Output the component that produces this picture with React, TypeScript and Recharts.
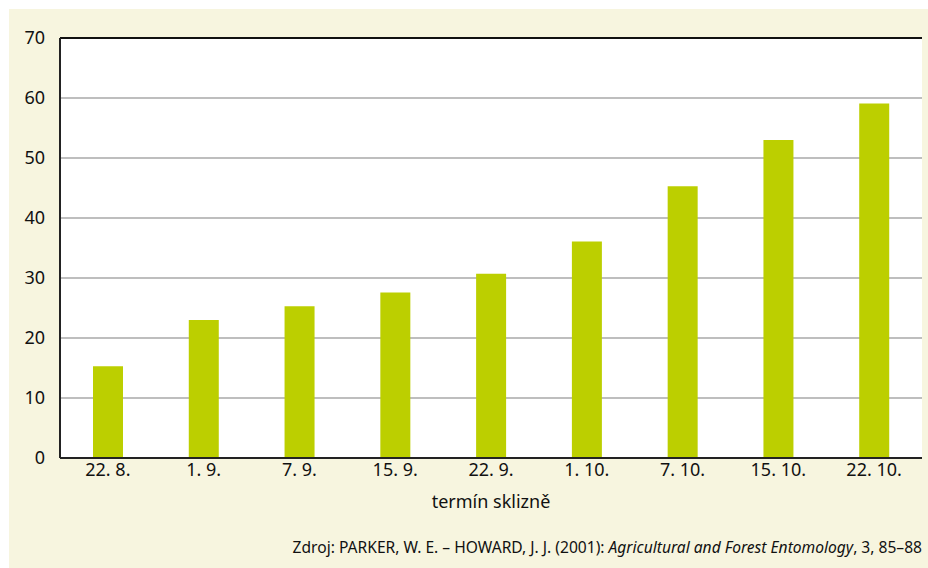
import React from "react";
import { BarChart, Bar, XAxis, YAxis, CartesianGrid, ReferenceLine } from "recharts";

const categories = ["22. 8.", "1. 9.", "7. 9.", "15. 9.", "22. 9.", "1. 10.", "7. 10.", "15. 10.", "22. 10."];
const values = [15.3, 23.0, 25.3, 27.6, 30.7, 36.1, 45.3, 53.0, 59.1];
const yTicks = [0, 10, 20, 30, 40, 50, 60, 70];
const xLabel = "termín sklizně";

const data = categories.map((c, i) => ({ name: c, value: values[i] }));

const FONT = "'Noto Sans', sans-serif";

export default function App() {
  return (
    <div
      style={{
        position: "fixed",
        left: 9,
        top: 9,
        width: 919,
        height: 559,
        background: "#f7f5df",
        fontFamily: FONT,
      }}
    >
      <BarChart
        width={919}
        height={559}
        data={data}
        margin={{ top: 29, right: 6, left: 0, bottom: 50 }}
      >
        <CartesianGrid
          vertical={false}
          stroke="#a8a8a8"
          strokeWidth={1.5}
          fill="#ffffff"
          fillOpacity={1}
        />
        <XAxis
          dataKey="name"
          tickLine={false}
          tickSize={0}
          tickMargin={5}
          axisLine={{ stroke: "#222", strokeWidth: 2 }}
          tick={{ fill: "#111", fontSize: 18, fontFamily: FONT }}
          height={60}
          label={{ value: xLabel, position: "insideBottom", offset: 10, fill: "#111", fontSize: 18, fontFamily: FONT }}
        />
        <YAxis
          domain={[0, 70]}
          ticks={yTicks}
          tickLine={false}
          tickSize={0}
          tickMargin={15}
          width={51}
          axisLine={{ stroke: "#222", strokeWidth: 2 }}
          tick={{ fill: "#111", fontSize: 18, fontFamily: FONT }}
          interval={0}
        />
        <YAxis
          yAxisId="right"
          orientation="right"
          domain={[0, 70]}
          tick={false}
          tickLine={false}
          width={0}
          axisLine={{ stroke: "#444", strokeWidth: 2 }}
        />
        <ReferenceLine y={70} stroke="#111" strokeWidth={2} />
        <Bar dataKey="value" fill="#bccf00" isAnimationActive={false} barSize={30} />
      </BarChart>
      <div
        style={{
          position: "absolute",
          right: 6,
          top: 527,
          fontSize: 15.6,
          color: "#111",
          fontFamily: FONT,
          whiteSpace: "nowrap",
        }}
      >
        Zdroj: PARKER, W. E. – HOWARD, J. J. (2001): <i>Agricultural and Forest Entomology</i>, 3, 85–88
      </div>
    </div>
  );
}
